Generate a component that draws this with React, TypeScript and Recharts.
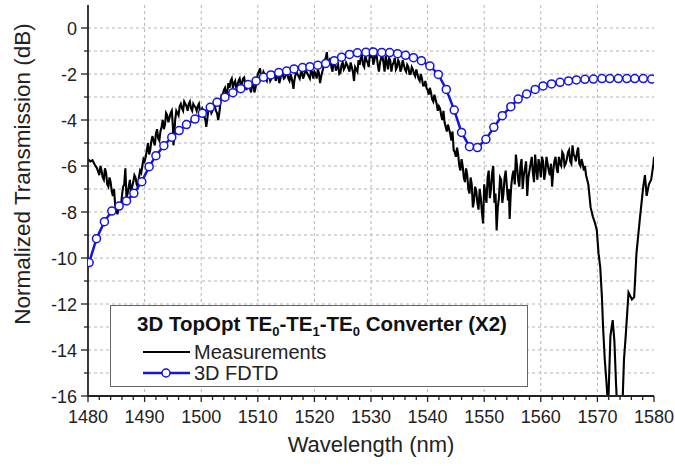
import React from 'react';
import { CartesianGrid, Line, LineChart, XAxis, YAxis } from 'recharts';

// Wavelength (nm), normalized transmission (dB)
const measured: [number, number][] = [
  [1480.0, -5.7], [1480.4, -5.8], [1480.8, -5.75], [1481.2, -5.95], [1481.6, -6.1], [1482.0, -6.4],
  [1482.4, -6.2], [1482.8, -6.6], [1483.2, -6.3], [1483.6, -6.9], [1484.0, -6.7], [1484.4, -7.3],
  [1484.8, -7.7], [1485.2, -8.1], [1485.6, -7.6], [1486.0, -7.3], [1486.4, -6.8], [1486.6, -6.1],
  [1486.8, -7.4], [1487.2, -6.9], [1487.6, -7.2], [1488.0, -6.7], [1488.4, -6.5], [1488.8, -6.9],
  [1489.2, -6.2], [1489.6, -6.0], [1490.0, -5.8], [1490.4, -5.3], [1490.8, -5.5], [1491.2, -4.9],
  [1491.6, -4.95], [1492.0, -4.6], [1492.4, -4.8], [1492.8, -4.5], [1493.2, -4.0], [1493.6, -4.2],
  [1494.0, -3.8], [1494.4, -3.9], [1494.8, -3.6], [1495.1, -5.1], [1495.4, -4.0], [1495.8, -3.7],
  [1496.2, -3.4], [1496.6, -3.5], [1497.0, -3.2], [1497.4, -3.4], [1497.8, -3.3], [1498.2, -3.5],
  [1498.6, -3.3], [1499.0, -3.45], [1499.4, -3.4], [1499.8, -3.65], [1500.2, -3.5], [1500.6, -3.9],
  [1500.9, -4.3], [1501.2, -3.7], [1501.6, -3.5], [1502.0, -3.6], [1502.4, -3.4], [1502.8, -3.7],
  [1503.0, -4.0], [1503.3, -3.5], [1503.6, -2.9], [1504.0, -2.7], [1504.4, -2.9], [1504.8, -2.4],
  [1505.2, -2.3], [1505.6, -2.6], [1506.0, -2.3], [1506.4, -2.5], [1506.8, -2.2], [1507.2, -2.4],
  [1507.6, -2.15], [1508.0, -2.7], [1508.4, -2.5], [1508.8, -2.8], [1509.2, -2.4], [1509.6, -2.6],
  [1510.0, -2.0], [1510.4, -1.75], [1510.8, -2.1], [1511.2, -2.0], [1511.6, -2.3], [1512.0, -2.0],
  [1512.4, -2.2], [1512.8, -1.95], [1513.2, -2.3], [1513.6, -2.1], [1514.0, -2.2], [1514.4, -2.0],
  [1514.8, -2.15], [1515.2, -1.95], [1515.6, -2.3], [1516.0, -2.2], [1516.3, -2.65], [1516.6, -2.1],
  [1517.0, -2.0], [1517.4, -2.2], [1517.8, -1.9], [1518.2, -2.05], [1518.6, -1.9], [1519.0, -2.1],
  [1519.4, -1.85], [1519.8, -2.2], [1520.2, -2.0], [1520.6, -1.8], [1521.0, -2.4], [1521.4, -1.9],
  [1521.8, -1.4], [1522.2, -1.05], [1522.6, -1.5], [1523.0, -1.7], [1523.4, -1.4], [1523.8, -1.85],
  [1524.2, -1.6], [1524.6, -1.95], [1525.0, -1.5], [1525.4, -1.7], [1525.8, -1.6], [1526.2, -1.9],
  [1526.6, -1.7], [1527.0, -2.3], [1527.4, -1.8], [1527.8, -1.4], [1528.2, -1.3], [1528.6, -1.6],
  [1529.0, -1.2], [1529.4, -1.5], [1529.8, -1.1], [1530.2, -0.85], [1530.6, -1.4], [1531.0, -1.2],
  [1531.4, -1.9], [1531.8, -1.3], [1532.2, -1.5], [1532.6, -1.2], [1533.0, -1.8], [1533.4, -1.4],
  [1533.8, -1.6], [1534.2, -1.3], [1534.6, -1.7], [1535.0, -1.5], [1535.4, -1.75], [1535.8, -1.6],
  [1536.2, -1.9], [1536.6, -1.7], [1537.0, -2.0], [1537.4, -1.8], [1537.8, -2.1], [1538.2, -2.0],
  [1538.6, -2.3], [1539.0, -2.2], [1539.4, -2.5], [1539.8, -2.6], [1540.2, -2.9], [1540.6, -2.8],
  [1541.0, -3.2], [1541.4, -3.1], [1541.8, -3.6], [1542.2, -3.5], [1542.6, -4.0], [1543.0, -4.1],
  [1543.4, -4.5], [1543.8, -4.4], [1544.2, -4.9], [1544.6, -5.3], [1545.0, -5.6], [1545.4, -5.5],
  [1545.8, -6.2], [1546.2, -6.0], [1546.6, -6.7], [1547.0, -6.4], [1547.4, -7.2], [1547.8, -6.8],
  [1548.2, -7.5], [1548.6, -7.1], [1549.0, -7.9], [1549.4, -7.4], [1549.8, -8.5], [1550.2, -7.2],
  [1550.6, -6.5], [1551.0, -7.4], [1551.4, -6.3], [1551.8, -7.6], [1552.2, -8.8], [1552.6, -7.4],
  [1553.0, -6.6], [1553.4, -7.2], [1553.8, -6.2], [1554.2, -7.5], [1554.5, -8.3], [1554.8, -6.8],
  [1555.2, -6.2], [1555.6, -5.5], [1556.0, -6.6], [1556.4, -6.0], [1556.8, -7.0], [1557.2, -6.1],
  [1557.6, -7.3], [1558.0, -6.2], [1558.4, -5.6], [1558.8, -6.7], [1559.2, -6.1], [1559.6, -5.7],
  [1560.0, -6.5], [1560.4, -5.8], [1560.8, -6.3], [1561.2, -5.9], [1561.6, -6.4], [1562.0, -6.9],
  [1562.4, -5.8], [1562.8, -6.1], [1563.2, -5.6], [1563.6, -6.0], [1564.0, -5.5], [1564.4, -5.9],
  [1564.8, -5.4], [1565.2, -5.8], [1565.6, -5.1], [1566.0, -5.6], [1566.4, -5.4], [1566.8, -5.9],
  [1567.2, -5.7], [1567.6, -6.2], [1568.0, -6.4], [1568.4, -6.8], [1568.8, -7.8], [1569.2, -8.2],
  [1569.6, -8.5], [1569.9, -8.8], [1570.2, -9.8], [1570.5, -10.4], [1570.8, -11.7], [1571.0, -13.0],
  [1571.3, -14.4], [1571.6, -15.4], [1571.9, -16.5], [1572.3, -13.4], [1572.7, -12.7], [1573.0, -13.6],
  [1573.3, -15.5], [1573.5, -16.6], [1574.4, -16.6], [1574.7, -14.4], [1575.0, -13.4], [1575.5, -11.5],
  [1576.1, -11.8], [1576.5, -11.7], [1576.9, -9.8], [1577.5, -8.3], [1578.1, -6.9], [1578.4, -6.4],
  [1578.7, -7.3], [1579.1, -6.8], [1579.5, -6.6], [1579.9, -5.9], [1580.0, -5.6],
];

// extra in-between samples where the measured trace is noisy
const measuredFine: [number, number][] = [
  [1482.2, -6.0], [1482.6, -6.5], [1483.0, -6.1], [1483.4, -6.8], [1483.8, -6.5], [1484.2, -7.1],
  [1484.6, -7.0], [1485.0, -7.9], [1485.4, -7.8], [1485.8, -7.8], [1486.2, -6.9], [1487.0, -7.2],
  [1487.4, -6.6], [1487.8, -6.9], [1488.2, -6.4], [1488.6, -6.8], [1489.0, -6.5], [1489.4, -6.3],
  [1489.8, -5.7],
  [1490.2, -5.6], [1490.6, -5.0], [1491.0, -5.3], [1491.4, -4.7], [1491.8, -5.1], [1492.2, -4.4],
  [1492.6, -4.9], [1493.0, -4.3], [1493.4, -4.4], [1493.8, -3.7], [1494.2, -4.1], [1494.6, -3.7],
  [1495.0, -4.3], [1495.25, -4.6], [1495.6, -3.6], [1496.0, -3.8], [1496.4, -3.3], [1496.8, -3.6],
  [1497.2, -3.3], [1497.6, -3.6], [1498.0, -3.2], [1498.4, -3.6], [1498.8, -3.4], [1499.2, -3.6],
  [1499.6, -3.3], [1500.0, -3.7], [1500.4, -3.6], [1500.75, -4.0], [1501.05, -4.0], [1501.4, -3.4],
  [1501.8, -3.7], [1502.2, -3.3], [1502.6, -3.6], [1503.15, -3.8], [1503.45, -3.1], [1503.8, -2.9],
  [1504.2, -2.6], [1504.6, -2.8],
  [1505.0, -2.6], [1505.4, -2.2], [1505.8, -2.4], [1506.2, -2.6], [1506.6, -2.3], [1507.0, -2.5],
  [1507.4, -2.2], [1507.8, -2.5], [1508.2, -2.3], [1508.6, -2.6], [1509.0, -2.5], [1509.4, -2.8],
  [1509.8, -2.3], [1510.2, -1.9], [1510.6, -2.2], [1511.0, -1.9], [1511.4, -2.2], [1511.8, -2.0],
  [1512.2, -2.3], [1512.6, -2.0], [1513.0, -2.1], [1513.4, -1.9], [1513.8, -2.4], [1514.2, -1.9],
  [1514.6, -2.2], [1515.0, -2.0], [1515.4, -2.2], [1515.8, -2.0], [1516.15, -2.4], [1516.45, -2.3],
  [1516.8, -1.9], [1517.2, -2.1], [1517.6, -1.95], [1518.0, -2.2], [1518.4, -1.85], [1518.8, -2.0],
  [1519.2, -2.2], [1519.6, -1.9],
  [1520.0, -1.9], [1520.4, -2.2], [1520.8, -1.95], [1521.2, -2.1], [1521.6, -1.7], [1522.0, -1.3],
  [1522.4, -1.6], [1522.8, -1.3], [1523.2, -1.9], [1523.6, -1.5], [1524.0, -1.7], [1524.4, -2.0],
  [1524.8, -1.6], [1525.2, -1.8], [1525.6, -1.5], [1526.0, -1.75], [1526.4, -1.5], [1526.8, -1.9],
  [1527.2, -1.7], [1527.6, -1.9], [1528.0, -1.6], [1528.4, -1.2], [1528.8, -1.7], [1529.2, -1.4],
  [1529.6, -1.7], [1530.0, -1.3], [1530.4, -1.6], [1530.8, -1.1], [1531.2, -1.6], [1531.6, -1.5],
  [1532.0, -1.2], [1532.4, -1.9], [1532.8, -1.5], [1533.2, -1.3], [1533.6, -1.9], [1534.0, -1.5],
  [1534.4, -1.8], [1534.8, -1.4], [1535.2, -1.9], [1535.6, -1.4], [1536.0, -1.8], [1536.4, -1.6],
  [1536.8, -2.0], [1537.2, -1.7], [1537.6, -2.0], [1538.0, -1.8], [1538.4, -2.2], [1538.8, -2.0],
  [1539.2, -2.5], [1539.6, -2.3], [1540.0, -2.7], [1540.4, -2.6], [1540.8, -3.1], [1541.2, -2.9],
  [1541.6, -3.3], [1542.0, -3.4], [1542.4, -3.8], [1542.8, -3.6], [1543.2, -4.3], [1543.6, -4.2],
  [1544.0, -4.6], [1544.4, -4.5], [1544.8, -5.4],
  [1545.2, -5.2], [1545.6, -6.0], [1546.0, -5.7], [1546.4, -6.5], [1546.8, -6.1], [1547.2, -7.0],
  [1547.6, -6.5], [1548.0, -7.8], [1548.4, -6.9], [1548.8, -7.6], [1549.2, -7.0], [1549.6, -8.0],
  [1550.0, -6.8], [1550.4, -7.6], [1550.8, -6.2], [1551.2, -7.0], [1551.6, -6.0], [1552.0, -7.2],
  [1552.4, -7.8], [1552.8, -6.5], [1553.2, -7.6], [1553.6, -6.5], [1554.0, -6.9], [1554.35, -7.0],
  [1554.65, -7.4], [1555.0, -6.4], [1555.4, -6.8], [1555.8, -6.0], [1556.2, -6.9], [1556.6, -5.7],
  [1557.0, -6.4], [1557.4, -5.8], [1557.8, -6.5], [1558.2, -5.9], [1558.6, -6.3], [1559.0, -5.5],
  [1559.4, -6.6], [1559.8, -6.0], [1560.2, -5.6], [1560.6, -6.6], [1561.0, -5.6], [1561.4, -6.2],
  [1561.8, -5.9], [1562.2, -6.2], [1562.6, -5.6], [1563.0, -6.3], [1563.4, -5.9], [1563.8, -5.4],
  [1564.2, -6.0], [1564.6, -5.7], [1565.0, -5.3], [1565.4, -5.9], [1565.8, -5.5], [1566.2, -5.8],
  [1566.6, -5.2], [1567.0, -6.0], [1567.4, -5.9], [1567.8, -6.0],
];

const fdtd: [number, number][] = [
  [1480.2, -10.2], [1481.5, -9.16], [1482.9, -8.42], [1484.2, -7.96], [1485.5, -7.74], [1486.8, -7.52],
  [1488.1, -7.19], [1489.5, -6.68], [1490.8, -6.03], [1492.0, -5.55], [1493.4, -5.12], [1494.8, -4.75],
  [1496.1, -4.46], [1497.4, -4.2], [1498.9, -3.96], [1500.2, -3.71], [1501.6, -3.45], [1502.8, -3.23],
  [1504.2, -3.01], [1505.6, -2.81], [1507.0, -2.64], [1508.3, -2.46], [1509.7, -2.3], [1511.0, -2.14],
  [1512.3, -2.04], [1513.7, -1.94], [1515.1, -1.87], [1516.4, -1.78], [1517.9, -1.72], [1519.2, -1.68],
  [1520.6, -1.62], [1522.0, -1.54], [1523.5, -1.42], [1524.8, -1.27], [1526.2, -1.15], [1527.6, -1.08],
  [1529.1, -1.05], [1530.4, -1.04], [1531.9, -1.06], [1533.3, -1.07], [1534.7, -1.12], [1536.1, -1.19],
  [1537.5, -1.29], [1538.9, -1.42], [1540.4, -1.65], [1541.9, -2.02], [1543.3, -2.67], [1544.7, -3.57],
  [1546.0, -4.54], [1547.4, -5.16], [1548.8, -5.2], [1550.3, -4.84], [1551.7, -4.32], [1553.2, -3.81],
  [1554.7, -3.42], [1556.0, -3.09], [1557.5, -2.87], [1559.0, -2.67], [1560.4, -2.52], [1561.9, -2.43],
  [1563.4, -2.36], [1564.9, -2.3], [1566.3, -2.26], [1567.8, -2.23], [1569.3, -2.22], [1570.8, -2.2],
  [1572.2, -2.2], [1573.7, -2.2], [1575.2, -2.2], [1576.6, -2.2], [1578.1, -2.2], [1579.6, -2.22],
];

const xTicks = [
  1480, 1482, 1484, 1486, 1488, 1490, 1492, 1494, 1496, 1498, 1500, 1502, 1504, 1506, 1508, 1510,
  1512, 1514, 1516, 1518, 1520, 1522, 1524, 1526, 1528, 1530, 1532, 1534, 1536, 1538, 1540, 1542,
  1544, 1546, 1548, 1550, 1552, 1554, 1556, 1558, 1560, 1562, 1564, 1566, 1568, 1570, 1572, 1574,
  1576, 1578, 1580,
];
const xGrid = [1490, 1500, 1510, 1520, 1530, 1540, 1550, 1560, 1570];
const yTicks = [-16, -15, -14, -13, -12, -11, -10, -9, -8, -7, -6, -5, -4, -3, -2, -1, 0];
const yGrid = [-15, -14, -13, -12, -11, -10, -9, -8, -7, -6, -5, -4, -3, -2, -1, 0];

const measuredData = [...measured, ...measuredFine]
  .sort((a, b) => a[0] - b[0])
  .map(([wl, db]) => ({ wl, db }));
const fdtdData = fdtd.map(([wl, db]) => ({ wl, db }));

const FONT = '"Liberation Sans", Arial, sans-serif';
const AXIS = '#222';
const BLUE = '#1414dc';

const BottomTick = (props: any) => {
  const { x, y, payload } = props;
  const major = payload.value % 10 === 0;
  return (
    <g>
      <line x1={x} x2={x} y1={y} y2={y + (major ? 6 : 4)} stroke={AXIS} strokeWidth={1.3} />
      {major && (
        <text x={x} y={y + 27} textAnchor="middle" fontSize={18} fill="#222" fontFamily={FONT}>
          {payload.value}
        </text>
      )}
    </g>
  );
};

const TopTick = (props: any) => {
  const { x, y, payload } = props;
  const major = payload.value % 10 === 0;
  return <line x1={x} x2={x} y1={y} y2={y + (major ? 7 : 4)} stroke={AXIS} strokeWidth={1.3} />;
};

const LeftTick = (props: any) => {
  const { x, y, payload } = props;
  const major = payload.value % 2 === 0;
  return (
    <g>
      <line x1={x - (major ? 7 : 4)} x2={x} y1={y} y2={y} stroke={AXIS} strokeWidth={1.3} />
      {major && (
        <text x={x - 11} y={y + 6.5} textAnchor="end" fontSize={18} fill="#222" fontFamily={FONT}>
          {payload.value === 0 ? '0' : `-${Math.abs(payload.value)}`}
        </text>
      )}
    </g>
  );
};

const RightTick = (props: any) => {
  const { x, y, payload } = props;
  const major = payload.value % 2 === 0;
  return <line x1={x - (major ? 8 : 5)} x2={x} y1={y} y2={y} stroke={AXIS} strokeWidth={1.3} />;
};

export default function App() {
  return (
    <div style={{ position: 'absolute', left: 0, top: 0, width: 675, height: 466, background: '#fff' }}>
      <LineChart width={675} height={466} margin={{ top: 5, right: 21, left: 0, bottom: 0 }}>
        <CartesianGrid
          stroke="#b4b4b4"
          strokeDasharray="3 3"
          verticalValues={xGrid}
          horizontalValues={yGrid}
        />
        <XAxis
          dataKey="wl"
          type="number"
          domain={[1480, 1580]}
          ticks={xTicks}
          interval={0}
          height={70}
          tickSize={0}
          tickMargin={0}
          tick={<BottomTick />}
          axisLine={{ stroke: AXIS, strokeWidth: 1.8 }}
          allowDataOverflow
        />
        <XAxis
          xAxisId="top"
          orientation="top"
          type="number"
          domain={[1480, 1580]}
          ticks={xTicks}
          interval={0}
          height={0}
          tickSize={0}
          tickMargin={0}
          tick={<TopTick />}
          axisLine={{ stroke: AXIS, strokeWidth: 1.5 }}
        />
        <YAxis
          type="number"
          domain={[-16, 1]}
          ticks={yTicks}
          interval={0}
          width={88}
          tickSize={0}
          tickMargin={0}
          tick={<LeftTick />}
          axisLine={{ stroke: AXIS, strokeWidth: 1.8 }}
          allowDataOverflow
        />
        <YAxis
          yAxisId="right"
          orientation="right"
          type="number"
          domain={[-16, 1]}
          ticks={yTicks}
          interval={0}
          width={0}
          tickSize={0}
          tickMargin={0}
          tick={<RightTick />}
          axisLine={{ stroke: '#444', strokeWidth: 1.2 }}
        />
        <Line
          data={measuredData}
          dataKey="db"
          type="linear"
          stroke="#000"
          strokeWidth={2.1}
          dot={false}
          isAnimationActive={false}
        />
        <Line
          data={fdtdData}
          dataKey="db"
          type="linear"
          stroke={BLUE}
          strokeWidth={2.5}
          dot={{ r: 4, stroke: BLUE, strokeWidth: 1.5, fill: '#fff' }}
          isAnimationActive={false}
        />
      </LineChart>
      <svg
        width={675}
        height={466}
        style={{ position: 'absolute', left: 0, top: 0, pointerEvents: 'none' }}
        fontFamily={FONT}
      >
        <text x={30} y={174} textAnchor="middle" fontSize={22.5} fill="#222" transform="rotate(-90, 30, 174)">
          Normalized Transmission (dB)
        </text>
        <text x={371} y={452} textAnchor="middle" fontSize={22} fill="#222">
          Wavelength (nm)
        </text>
        <rect x={110.5} y={305.5} width={417} height={81} fill="#fff" stroke="#666" strokeWidth={1} />
        <text x={322} y={331} textAnchor="middle" fontSize={20.5} fontWeight="bold" fill="#111">
          3D TopOpt TE<tspan fontSize={13} dy={5}>0</tspan>
          <tspan dy={-5}>-TE</tspan><tspan fontSize={13} dy={5}>1</tspan>
          <tspan dy={-5}>-TE</tspan><tspan fontSize={13} dy={5}>0</tspan>
          <tspan dy={-5}> Converter (X2)</tspan>
        </text>
        <line x1={143} x2={190} y1={352} y2={352} stroke="#000" strokeWidth={2} />
        <text x={194} y={359} fontSize={20} fill="#222">Measurements</text>
        <line x1={143} x2={190} y1={373} y2={373} stroke={BLUE} strokeWidth={2.5} />
        <circle cx={166} cy={373} r={4} fill="#fff" stroke={BLUE} strokeWidth={1.5} />
        <text x={194} y={380} fontSize={20} fill="#222">3D FDTD</text>
      </svg>
    </div>
  );
}
